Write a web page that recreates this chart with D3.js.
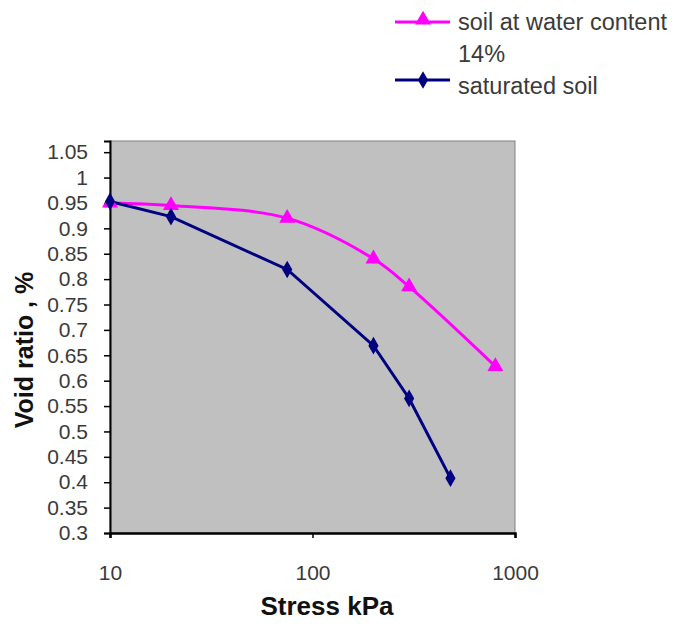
<!DOCTYPE html>
<html>
<head>
<meta charset="utf-8">
<script src="https://cdn.jsdelivr.net/npm/d3@7"></script>
<style>
  body { margin: 0; background: #fff; }
  svg { display: block; font-family: "Liberation Sans", Arial, sans-serif; }
</style>
</head>
<body>
<svg id="chart"></svg>
<script>
// stress values (kPa) and void ratios
var stressMoist = [10, 20, 75, 200, 300, 800];
var voidMoist = [0.95, 0.945, 0.92, 0.84, 0.785, 0.628];
var stressSat = [10, 20, 75, 200, 300, 480];
var voidSat = [0.953, 0.923, 0.819, 0.669, 0.565, 0.408];
var seriesNames = ["soil at water content", "14%", "saturated soil"];
var xTicks = [10, 100, 1000];
var yTicks = [0.3, 0.35, 0.4, 0.45, 0.5, 0.55, 0.6, 0.65, 0.7, 0.75, 0.8, 0.85, 0.9, 0.95, 1, 1.05];

var width = 677, height = 626;
var margin = {top: 141, right: 162, bottom: 93, left: 110};
var svg = d3.select("#chart").attr("width", width).attr("height", height);

var pw = width - margin.left - margin.right,
    ph = height - margin.top - margin.bottom;

var x = d3.scaleLog().domain([10, 1000]).range([0, pw]);
// plot top sits a bit above the 1.05 tick
var y = d3.scaleLinear().domain([0.3, 1.072]).range([ph, 0]);

var g = svg.append("g").attr("transform", "translate(" + margin.left + "," + margin.top + ")");

g.append("rect")
  .attr("width", pw).attr("height", ph)
  .attr("fill", "#c0c0c0")
  .attr("stroke", "#808080").attr("stroke-width", 1);

var tickFont = 21, textCol = "#3a3a3a";

// y axis
var yAxis = g.append("g")
  .call(d3.axisLeft(y).tickValues(yTicks).tickSize(6).tickPadding(16)
    .tickFormat(function(d) { return d3.format("")(+d.toFixed(2)); }));
yAxis.select(".domain").attr("stroke", "#000").attr("stroke-width", 2);
yAxis.selectAll(".tick line").attr("stroke", "#000").attr("stroke-width", 1.5);
yAxis.selectAll("text").attr("font-size", tickFont).attr("fill", textCol)
  .attr("font-family", "Liberation Sans, Arial, sans-serif");

// x axis
var xAxis = g.append("g").attr("transform", "translate(0," + ph + ")")
  .call(d3.axisBottom(x).tickValues(xTicks).tickSize(5).tickPadding(27)
    .tickFormat(d3.format("d")));
xAxis.select(".domain").attr("stroke", "#000").attr("stroke-width", 2.5);
xAxis.selectAll(".tick line").attr("stroke", "#000").attr("stroke-width", 1.5);
xAxis.selectAll("text").attr("font-size", tickFont).attr("fill", textCol)
  .attr("font-family", "Liberation Sans, Arial, sans-serif");

// axis titles
svg.append("text")
  .attr("x", 327).attr("y", 615)
  .attr("text-anchor", "middle")
  .attr("font-size", 26).attr("font-weight", "bold").attr("fill", "#111")
  .text("Stress kPa");

svg.append("text")
  .attr("transform", "translate(33,350) rotate(-90)")
  .attr("text-anchor", "middle")
  .attr("font-size", 25).attr("font-weight", "bold").attr("fill", "#111")
  .text("Void ratio , %");

var pink = "#ff00ff", navy = "#000080";

var moist = stressMoist.map(function(s, i) { return [s, voidMoist[i]]; });
var sat = stressSat.map(function(s, i) { return [s, voidSat[i]]; });

var lineSmooth = d3.line()
  .x(function(d) { return x(d[0]); })
  .y(function(d) { return y(d[1]); })
  .curve(d3.curveCatmullRom.alpha(0.5));
var lineStraight = d3.line()
  .x(function(d) { return x(d[0]); })
  .y(function(d) { return y(d[1]); });

g.append("path").datum(moist)
  .attr("d", lineSmooth).attr("fill", "none")
  .attr("stroke", pink).attr("stroke-width", 3);

g.append("path").datum(sat)
  .attr("d", lineStraight).attr("fill", "none")
  .attr("stroke", navy).attr("stroke-width", 3);

var tri = d3.symbol().type(d3.symbolTriangle).size(110);
var dia = d3.symbol().type(d3.symbolDiamond).size(90);

g.selectAll(".tri").data(moist).enter().append("path")
  .attr("class", "tri")
  .attr("transform", function(d) { return "translate(" + x(d[0]) + "," + y(d[1]) + ")"; })
  .attr("d", tri).attr("fill", pink);

g.selectAll(".dia").data(sat).enter().append("path")
  .attr("class", "dia")
  .attr("transform", function(d) { return "translate(" + x(d[0]) + "," + y(d[1]) + ")"; })
  .attr("d", dia).attr("fill", navy);

// legend
var legFont = 23.5;
var leg = svg.append("g");
leg.append("line").attr("x1", 395).attr("x2", 450).attr("y1", 22).attr("y2", 22)
  .attr("stroke", pink).attr("stroke-width", 3);
leg.append("path").attr("transform", "translate(423,20)").attr("d", tri).attr("fill", pink);
leg.append("text").attr("x", 458).attr("y", 30).attr("font-size", legFont).attr("fill", textCol)
  .text(seriesNames[0]);
leg.append("text").attr("x", 458).attr("y", 62).attr("font-size", legFont).attr("fill", textCol)
  .text(seriesNames[1]);
leg.append("line").attr("x1", 395).attr("x2", 450).attr("y1", 80).attr("y2", 80)
  .attr("stroke", navy).attr("stroke-width", 3);
leg.append("path").attr("transform", "translate(423,80)").attr("d", dia).attr("fill", navy);
leg.append("text").attr("x", 458).attr("y", 94).attr("font-size", legFont).attr("fill", textCol)
  .text(seriesNames[2]);
</script>
</body>
</html>
